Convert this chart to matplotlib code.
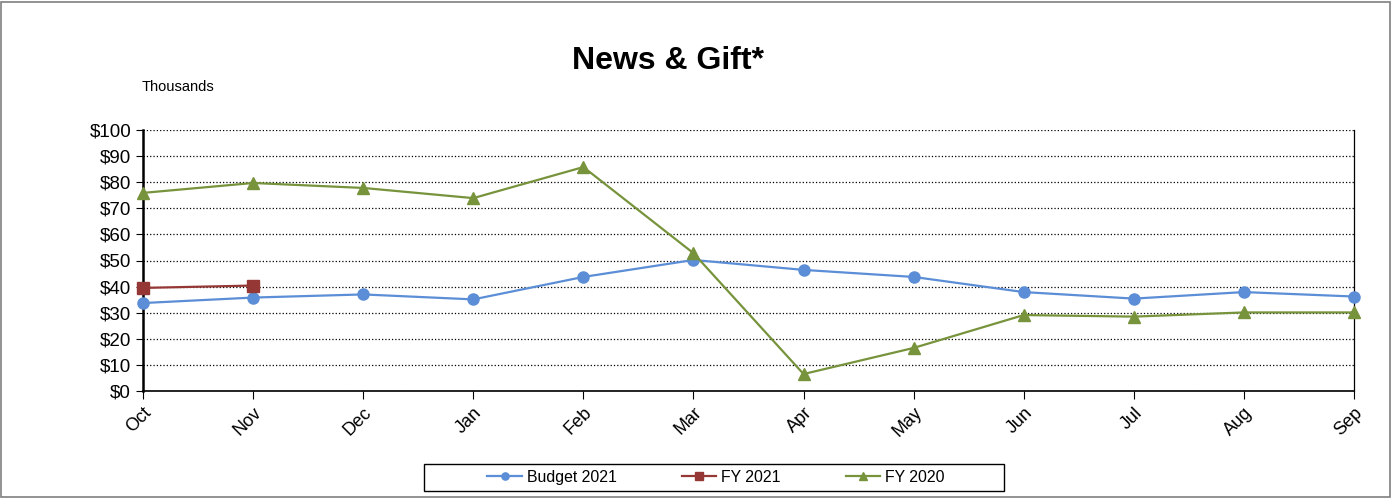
import matplotlib
matplotlib.use("Agg")
import matplotlib.pyplot as plt
from matplotlib.patches import Rectangle
from matplotlib.ticker import FuncFormatter

plt.rcParams['font.family'] = ['Liberation Sans', 'DejaVu Sans']

months = ["Oct", "Nov", "Dec", "Jan", "Feb", "Mar", "Apr", "May", "Jun", "Jul", "Aug", "Sep"]
budget_2021 = [33.7, 35.8, 37.0, 35.1, 43.7, 50.2, 46.4, 43.7, 37.9, 35.4, 37.9, 36.2]
fy_2021 = [39.5, 40.4]
fy_2020 = [75.9, 79.7, 77.8, 73.9, 85.8, 52.8, 6.5, 16.5, 29.1, 28.5, 30.1, 30.1]

W, H = 1393, 498
fig = plt.figure(figsize=(W / 100, H / 100), dpi=100)
ax = fig.add_axes([143/W, 107/H, 1211/W, 261/H])

x = list(range(len(months)))
ax.plot(x, budget_2021, color="#5B8ED6", marker="o", markersize=8, linewidth=1.6,
        label="Budget 2021", clip_on=False, zorder=3)
ax.plot(x[:len(fy_2021)], fy_2021, color="#953735", marker="s", markersize=8, linewidth=1.6,
        label="FY 2021", clip_on=False, zorder=4)
ax.plot(x, fy_2020, color="#77933C", marker="^", markersize=9, linewidth=1.6,
        label="FY 2020", clip_on=False, zorder=5)

ax.set_xlim(0, len(months) - 1)
ax.set_ylim(0, 100)
ax.set_yticks(range(0, 101, 10))
ax.yaxis.set_major_formatter(FuncFormatter(lambda v, p: "$%d" % v))
ax.set_xticks(x)
ax.set_xticklabels(months, rotation=45, ha="right", rotation_mode="anchor", fontsize=13)
ax.tick_params(axis="y", labelsize=13.5, direction="out", length=5, color="black")
ax.tick_params(axis="x", direction="out", length=6, color="black")
ax.grid(axis="y", color="black", linestyle=":", linewidth=0.9)
ax.set_axisbelow(True)
ax.spines["top"].set_visible(False)
ax.spines["left"].set_linewidth(1.8)
ax.spines["bottom"].set_linewidth(1.2)
ax.spines["right"].set_linewidth(0.9)

fig.text(668/W, 1 - 61/H, "News & Gift*", ha="center", va="center", fontsize=23, fontweight="bold")
fig.text(142/W, 1 - 87/H, "Thousands", ha="left", va="center", fontsize=10.5)

# legend box drawn separately, entries centred inside it
fig.patches.append(Rectangle((424/W, 1 - 491/H), 580/W, 27/H, transform=fig.transFigure,
                             fill=False, edgecolor="black", linewidth=1.0))
fig.legend(loc="center", bbox_to_anchor=(716/W, 1 - 477/H), ncol=3, fontsize=11.4,
           frameon=False, markerscale=0.65, handlelength=2.2, handletextpad=0.3,
           columnspacing=4.1, borderpad=0, borderaxespad=0)

fig.patches.append(Rectangle((0.001, 0.002), 0.997, 0.994, transform=fig.transFigure,
                             fill=False, edgecolor="#7f7f7f", linewidth=1.2))

fig.savefig("out.png", dpi=100)
